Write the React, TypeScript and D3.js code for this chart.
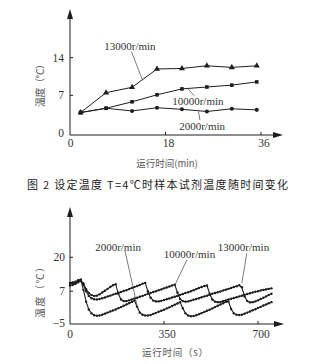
import React from 'react';
import * as d3 from 'd3';

// ---------- Figure 2 (top) ----------
const topTimes = [2, 6.8, 11.7, 16.4, 21.1, 25.8, 30.5, 35.2];
const top13000 = [3.8, 7.5, 8.5, 11.9, 12.0, 12.5, 12.2, 12.5];
const top10000 = [3.8, 4.6, 5.8, 7.1, 8.2, 8.55, 8.9, 9.5];
const top2000 = [3.8, 4.6, 4.1, 4.7, 4.4, 4.0, 4.5, 4.3];
const topYTicks = [0, 7, 14];
const topXTicks = [0, 18, 36];
const topLabels = [
  { text: '13000r/min', t: 11.3, v: 16.2, from: [11.6, 15.1], to: [13.6, 10.0] },
  { text: '10000r/min', t: 24.1, v: 5.95, from: [22.1, 8.4], to: [23.4, 6.9] },
  { text: '2000r/min', t: 24.9, v: 1.3, from: [24.2, 4.0], to: [24.5, 2.4] },
];

// ---------- bottom chart ----------
const botTimes = [
  0, 10, 20, 30, 40, 50, 60, 70, 80, 90, 100, 110, 120, 130, 140, 150, 160, 170, 180, 190,
  200, 210, 220, 230, 240, 250, 260, 270, 280, 290, 300, 310, 320, 330, 340, 350, 360, 370, 380, 390,
  400, 410, 420, 430, 440, 450, 460, 470, 480, 490, 500, 510, 520, 530, 540, 550, 560, 570, 580, 590,
  600, 610, 620, 630, 640, 650, 660, 670, 680, 690, 700, 710, 720, 730, 740, 750,
];
const bot2000 = [
  10.2, 10.4, 10.6, 11.2, 11.5, 7.5, 3.0, 0.0, -1.5, -2.2, -2.4, -2.3, -2.0, -1.6, -1.2, -0.8, -0.4, 0.0, 0.5, 0.9,
  1.4, 1.9, 2.4, 2.9, 3.4, 1.0, -1.2, -2.0, -2.3, -2.3, -2.1, -1.7, -1.3, -0.9, -0.5, -0.1, 0.4, 0.8, 1.3, 1.8,
  2.3, 2.8, 0.5, -1.5, -2.3, -2.6, -2.5, -2.2, -1.8, -1.4, -1.0, -0.5, -0.1, 0.4, 0.9, 1.4, 1.9, 2.4, 2.9, 3.1,
  0.2, -1.5, -2.0, -2.1, -2.0, -1.6, -1.2, -0.8, -0.3, 0.1, 0.6, 1.0, 1.5, 1.9, 2.4, 2.8,
];
const bot10000 = [
  9.2, 9.4, 9.8, 10.4, 10.9, 9.5, 7.0, 5.2, 4.3, 3.9, 3.8, 4.0, 4.3, 4.6, 5.0, 5.3, 5.7, 6.0, 6.4, 6.7,
  7.1, 7.4, 7.8, 8.2, 8.6, 9.0, 9.4, 9.9, 10.2, 7.0, 4.5, 3.4, 3.1, 3.1, 3.3, 3.6, 3.9, 4.2, 4.6, 4.9,
  5.2, 5.6, 5.9, 6.3, 6.6, 7.0, 7.4, 7.8, 8.2, 8.6, 9.0, 9.2, 6.0, 3.8, 3.0, 2.8, 2.9, 3.2, 3.5, 3.8,
  4.1, 4.4, 4.7, 5.0, 5.3, 5.6, 5.9, 6.2, 6.5, 6.8, 7.0, 7.3, 7.5, 7.7, 7.9, 8.1,
];
const bot13000 = [
  9.8, 10.0, 10.3, 10.8, 11.2, 10.0, 7.8, 6.3, 5.5, 5.2, 5.3, 5.8, 6.5, 7.2, 7.9, 8.6, 9.3, 9.7, 6.0, 3.8,
  3.2, 3.2, 3.5, 3.8, 4.2, 4.5, 4.9, 5.2, 5.6, 6.0, 6.3, 6.7, 7.0, 7.4, 7.7, 8.1, 8.4, 8.8, 9.2, 9.5,
  6.5, 4.0, 3.2, 3.0, 3.1, 3.4, 3.7, 4.0, 4.3, 4.7, 5.0, 5.3, 5.6, 6.0, 6.3, 6.6, 6.9, 7.3, 7.6, 7.9,
  8.2, 8.6, 8.9, 9.3, 8.5, 5.0, 3.2, 2.7, 2.8, 3.1, 3.5, 4.0, 4.5, 5.0, 5.5, 6.0,
];
const botYTicks = [-5, 7, 20];
const botXTicks = [0, 350, 700];
const botLabels = [
  { text: '2000r/min', t: 179, v: 24.1, from: [205, 22.4], to: [253, 0.0] },
  { text: '10000r/min', t: 445, v: 21.1, from: [435, 19.0], to: [391, 9.4] },
  { text: '13000r/min', t: 646, v: 24.1, from: [658, 21.5], to: [640, 10.1] },
];

const SERIF = '"Liberation Serif", "DejaVu Serif", serif';
const CJK = '"Noto Sans CJK SC", sans-serif';
const INK = '#1e1e1e';
const TXT = '#333';

export default function App() {
  const xT = d3.scaleLinear().domain([0, 36]).range([70, 261]);
  const yT = d3.scaleLinear().domain([0, 14]).range([133, 57.7]);
  const axisT = { x: 70, y: 135, top: 9, right: 283 };

  const xB = d3.scaleLinear().domain([0, 700]).range([70, 258]);
  const yB = d3.scaleLinear().domain([-5, 20]).range([322.5, 257.3]);
  const axisB = { x: 70, y: 324, top: 207, right: 284 };

  const lineT = d3
    .line<number>()
    .x((_, i) => xT(topTimes[i]))
    .y((d) => yT(d));
  const lineB = d3
    .line<number>()
    .x((_, i) => xB(botTimes[i]))
    .y((d) => yB(d));

  const tri = d3.symbol().type(d3.symbolTriangle).size(16)();
  const sq = d3.symbol().type(d3.symbolSquare).size(13)();
  const circ = d3.symbol().type(d3.symbolCircle).size(13)();

  const renderAxes = (ax: { x: number; y: number; top: number; right: number }) => (
    <g>
      <line x1={ax.x} y1={ax.y} x2={ax.x} y2={ax.top + 6} stroke={INK} strokeWidth={1} />
      <line x1={ax.x} y1={ax.y} x2={ax.right - 6} y2={ax.y} stroke={INK} strokeWidth={1} />
      <path d={`M${ax.x},${ax.top} L${ax.x - 3},${ax.top + 10} L${ax.x + 3},${ax.top + 10} Z`} fill={INK} />
      <path d={`M${ax.right},${ax.y} L${ax.right - 10},${ax.y - 3} L${ax.right - 10},${ax.y + 3} Z`} fill={INK} />
    </g>
  );

  return (
    <svg
      width={327}
      height={364}
      style={{ position: 'absolute', left: 0, top: 0, background: '#fff' }}
      xmlns="http://www.w3.org/2000/svg"
    >
      <rect x={0} y={0} width={327} height={364} fill="#fff" />

      {/* ---------------- TOP CHART ---------------- */}
      {renderAxes(axisT)}
      {topYTicks.map((v) => (
        <g key={'ty' + v}>
          {v !== 0 && <line x1={axisT.x} x2={axisT.x + 3} y1={yT(v)} y2={yT(v)} stroke={INK} />}
          <text x={64} y={yT(v)} textAnchor="end" dominantBaseline="central" fontFamily={SERIF} fontSize={11.5} fill={TXT}>
            {v}
          </text>
        </g>
      ))}
      {topXTicks.map((t) => (
        <g key={'tx' + t}>
          {t !== 0 && <line x1={xT(t)} x2={xT(t)} y1={axisT.y} y2={axisT.y - 3} stroke={INK} />}
          <text x={t === 0 ? 70.5 : xT(t) + 3} y={142.7} textAnchor="middle" dominantBaseline="central" fontFamily={SERIF} fontSize={11.5} fill={TXT}>
            {t}
          </text>
        </g>
      ))}
      <text
        transform={`translate(39,83) rotate(-90)`}
        textAnchor="middle"
        dominantBaseline="central"
        fontFamily={CJK}
        fontSize={10}
        fill="#555"
        textLength={48}
        lengthAdjust="spacing"
      >
        温度（℃）
      </text>
      <text x={167} y={163} textAnchor="middle" dominantBaseline="central" fontFamily={CJK} fontSize={9.5} fill="#555">
        运行时间(min)
      </text>

      {[top13000, top10000, top2000].map((s, k) => (
        <path key={'tl' + k} d={lineT(s) || ''} fill="none" stroke={INK} strokeWidth={1} />
      ))}
      {top13000.map((v, i) => (
        <path key={'m13' + i} d={tri || ''} transform={`translate(${xT(topTimes[i])},${yT(v)})`} fill={INK} />
      ))}
      {top10000.map((v, i) => (
        <path key={'m10' + i} d={sq || ''} transform={`translate(${xT(topTimes[i])},${yT(v)})`} fill={INK} />
      ))}
      {top2000.map((v, i) => (
        <path key={'m2' + i} d={(i === 0 ? sq : circ) || ''} transform={`translate(${xT(topTimes[i])},${yT(v)})`} fill={INK} />
      ))}
      {topLabels.map((l) => (
        <g key={l.text}>
          <line x1={xT(l.from[0])} y1={yT(l.from[1])} x2={xT(l.to[0])} y2={yT(l.to[1])} stroke="#444" strokeWidth={0.7} />
          <text x={xT(l.t)} y={yT(l.v)} textAnchor="middle" dominantBaseline="central" fontFamily={SERIF} fontSize={11} fill={TXT}>
            {l.text}
          </text>
        </g>
      ))}

      {/* caption */}
      <text x={27} y={183.5} dominantBaseline="central" fontFamily={CJK} fontSize={11} fill="#222" textLength={261} lengthAdjust="spacing">
        图 2 设定温度 T=4℃时样本试剂温度随时间变化
      </text>

      {/* ---------------- BOTTOM CHART ---------------- */}
      {renderAxes(axisB)}
      {botYTicks.map((v) => (
        <g key={'by' + v}>
          {v !== -5 && <line x1={axisB.x} x2={axisB.x + 3} y1={yB(v)} y2={yB(v)} stroke={INK} />}
          <text x={65} y={yB(v)} textAnchor="end" dominantBaseline="central" fontFamily={SERIF} fontSize={11.5} fill={TXT}>
            {v === -5 ? '−5' : v}
          </text>
        </g>
      ))}
      {botXTicks.map((t) => (
        <g key={'bx' + t}>
          {t !== 0 && <line x1={xB(t)} x2={xB(t)} y1={axisB.y} y2={axisB.y - 3} stroke={INK} />}
          <text x={t === 0 ? 70 : xB(t) + 3} y={333.5} textAnchor="middle" dominantBaseline="central" fontFamily={SERIF} fontSize={11.5} fill={TXT}>
            {t}
          </text>
        </g>
      ))}
      <text
        transform={`translate(39,290) rotate(-90)`}
        textAnchor="middle"
        dominantBaseline="central"
        fontFamily={CJK}
        fontSize={10}
        fill="#555"
        textLength={56}
        lengthAdjust="spacing"
      >
        温度（℃）
      </text>
      <text x={175} y={352} textAnchor="middle" dominantBaseline="central" fontFamily={CJK} fontSize={9.5} fill="#555" textLength={66} lengthAdjust="spacing">
        运行时间（s）
      </text>

      {[bot2000, bot10000, bot13000].map((s, k) => (
        <g key={'bl' + k}>
          <path d={lineB(s) || ''} fill="none" stroke={INK} strokeWidth={1.1} />
          {s.map((v, i) => (
            <circle key={i} cx={xB(botTimes[i])} cy={yB(v)} r={1.2} fill={INK} />
          ))}
        </g>
      ))}
      {botLabels.map((l) => (
        <g key={'b' + l.text}>
          <line x1={xB(l.from[0])} y1={yB(l.from[1])} x2={xB(l.to[0])} y2={yB(l.to[1])} stroke="#444" strokeWidth={0.7} />
          <text x={xB(l.t)} y={yB(l.v)} textAnchor="middle" dominantBaseline="central" fontFamily={SERIF} fontSize={11} fill={TXT}>
            {l.text}
          </text>
        </g>
      ))}
    </svg>
  );
}
